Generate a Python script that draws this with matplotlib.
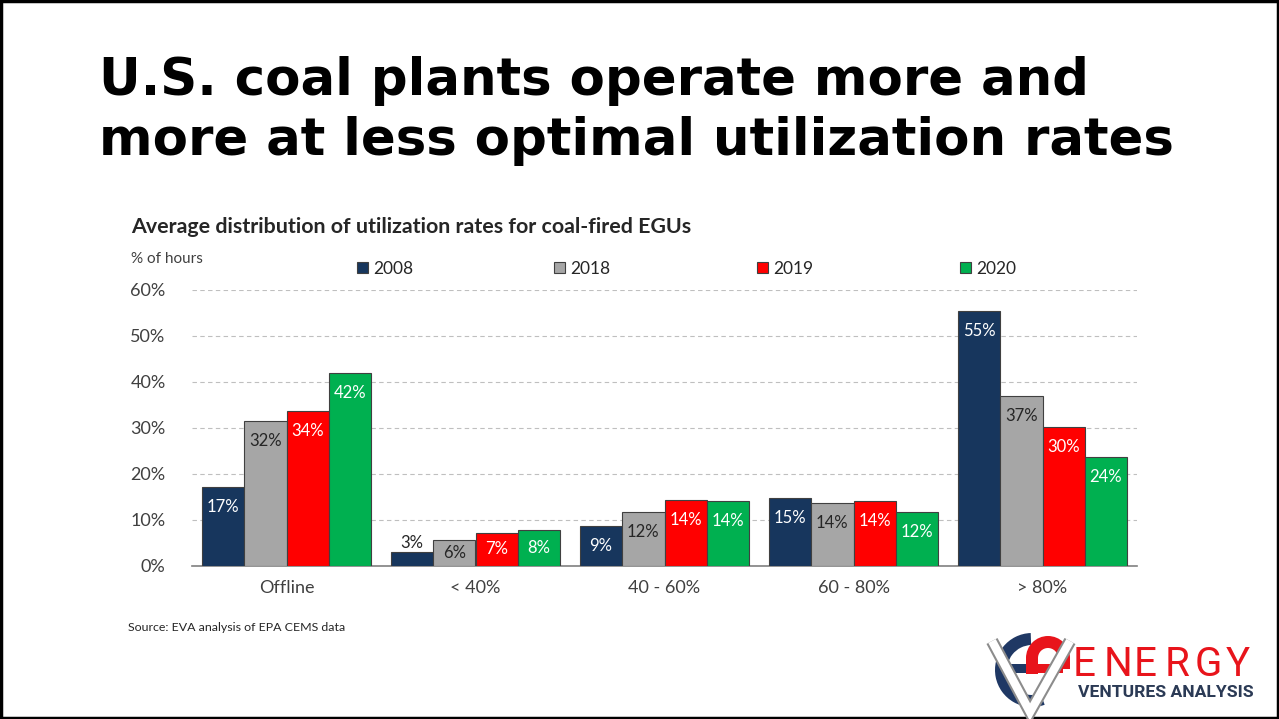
# Coal plant utilization chart

import numpy as np
import matplotlib.pyplot as plt
from matplotlib.patches import Wedge, Rectangle

# DATA

categories = ["Offline", "< 40%", "40 - 60%", "60 - 80%", "> 80%"]
years = ["2008", "2018", "2019", "2020"]
share_2008 = [17.2, 3.0, 8.6, 14.8, 55.4]
share_2018 = [31.6, 5.6, 11.8, 13.6, 37.0]
share_2019 = [33.6, 7.2, 14.3, 14.1, 30.2]
share_2020 = [42.0, 7.9, 14.1, 11.8, 23.6]
series = [share_2008, share_2018, share_2019, share_2020]
y_ticks = [0, 10, 20, 30, 40, 50, 60]

colors = ["#17365D", "#A6A6A6", "#FF0000", "#00B050"]
label_colors = ["white", "#262626", "white", "white"]

W, H = 1279, 719
fig = plt.figure(figsize=(W / 100, H / 100), dpi=100)

# background layer in pixel coordinates (y down)
bg = fig.add_axes([0, 0, 1, 1])
bg.set_xlim(0, W)
bg.set_ylim(H, 0)
bg.axis("off")

# slide border
bg.add_patch(Rectangle((1, 1), W - 2, H - 2, fill=False, ec="black", lw=2.5))

# slide title
title_font = dict(family="DejaVu Sans", weight="bold", size=37, color="black")
bg.text(99, 95, "U.S. coal plants operate more and", va="baseline", **title_font)
bg.text(99, 155, "more at less optimal utilization rates", va="baseline", **title_font)

chart_font = "Lato"
bg.text(131, 233, "Average distribution of utilization rates for coal-fired EGUs",
        family=chart_font, weight="bold", size=15.4, color="#262626", va="baseline")
bg.text(131, 263, "% of hours", family=chart_font, size=11, color="#404040", va="baseline")
bg.text(128, 631, "Source: EVA analysis of EPA CEMS data", family=chart_font, size=8.9,
        color="#262626", va="baseline")

# legend
legend_x = [357, 554, 757, 960]
for lx, yr, c in zip(legend_x, years, colors):
    bg.add_patch(Rectangle((lx, 262), 11, 11, fc=c, ec="#404040", lw=0.8))
    bg.text(lx + 16, 274, yr, family=chart_font, size=12.5, color="#262626", va="baseline")

# chart
ax = fig.add_axes([192 / W, (H - 566) / H, 945 / W, (566 - 290) / H])
ax.set_facecolor("none")
x = np.arange(len(categories))
bw = 0.2237

for i, (vals, c, lc) in enumerate(zip(series, colors, label_colors)):
    pos = x + (i - 1.5) * bw
    ax.bar(pos, vals, bw, color=c, edgecolor="#404040", linewidth=0.8, zorder=3)
    for p, v in zip(pos, vals):
        h_px = v * 4.6
        if h_px < 20:
            ax.annotate(f"{v:.0f}%", (p, v), xytext=(0, 9 * 0.72), textcoords="offset points",
                        ha="center", va="center", family=chart_font, size=12, color="#262626")
        else:
            off = min(20, h_px / 2)
            ax.annotate(f"{v:.0f}%", (p, v), xytext=(0, -off * 0.72), textcoords="offset points",
                        ha="center", va="center", family=chart_font, size=12, color=lc, zorder=4)

ax.set_xlim(-0.5, len(categories) - 0.5)
ax.set_ylim(0, 60)
ax.set_yticks(y_ticks)
ax.set_yticklabels([f"{t}%" for t in y_ticks], family=chart_font, size=13, color="#404040")
ax.set_xticks(x)
ax.set_xticklabels(categories, family=chart_font, size=13, color="#404040")
ax.tick_params(length=0)
ax.tick_params(axis="y", pad=19)
ax.tick_params(axis="x", pad=10)
ax.grid(axis="y", color="#BFBFBF", linestyle=(0, (4, 3)), linewidth=0.8, zorder=0)
ax.set_axisbelow(True)
for s in ["top", "right", "left"]:
    ax.spines[s].set_visible(False)
ax.spines["bottom"].set_color("#808080")
ax.spines["bottom"].set_linewidth(1.2)

# logo
navy_logo = "#1F3864"
red_logo = "#E8141B"
bg.add_patch(Wedge((1032, 670), 37, 70, 268, width=12, fc=navy_logo, ec="none"))
bg.add_patch(Rectangle((997, 664), 31, 9, fc=navy_logo, ec="none"))
bg.add_patch(Wedge((1048, 658), 22, 180, 360, width=12, fc=red_logo, ec="none"))
bg.add_patch(Rectangle((1026, 657), 12, 17, fc=red_logo, ec="none"))
bg.add_patch(Rectangle((1058, 657), 12, 12, fc=red_logo, ec="none"))
bg.add_patch(Rectangle((1028, 664), 35, 9, fc=red_logo, ec="none"))
vx = [992, 1030, 1070]
vy = [641, 712, 641]
bg.plot(vx, vy, color="#8C8C8C", lw=9, solid_joinstyle="miter", solid_capstyle="butt")
bg.plot(vx, vy, color="white", lw=6, solid_joinstyle="miter", solid_capstyle="butt")

for k, ch in enumerate("ENERGY"):
    bg.text(1073 + k * 30.5, 676, ch, family="Roboto", size=29, color=red_logo, va="baseline")
bg.text(1078, 697, "VENTURES ANALYSIS", family="Roboto", weight="bold", size=12.6,
        color="#2B3A55", va="baseline")

fig.savefig("out.png", dpi=100)
